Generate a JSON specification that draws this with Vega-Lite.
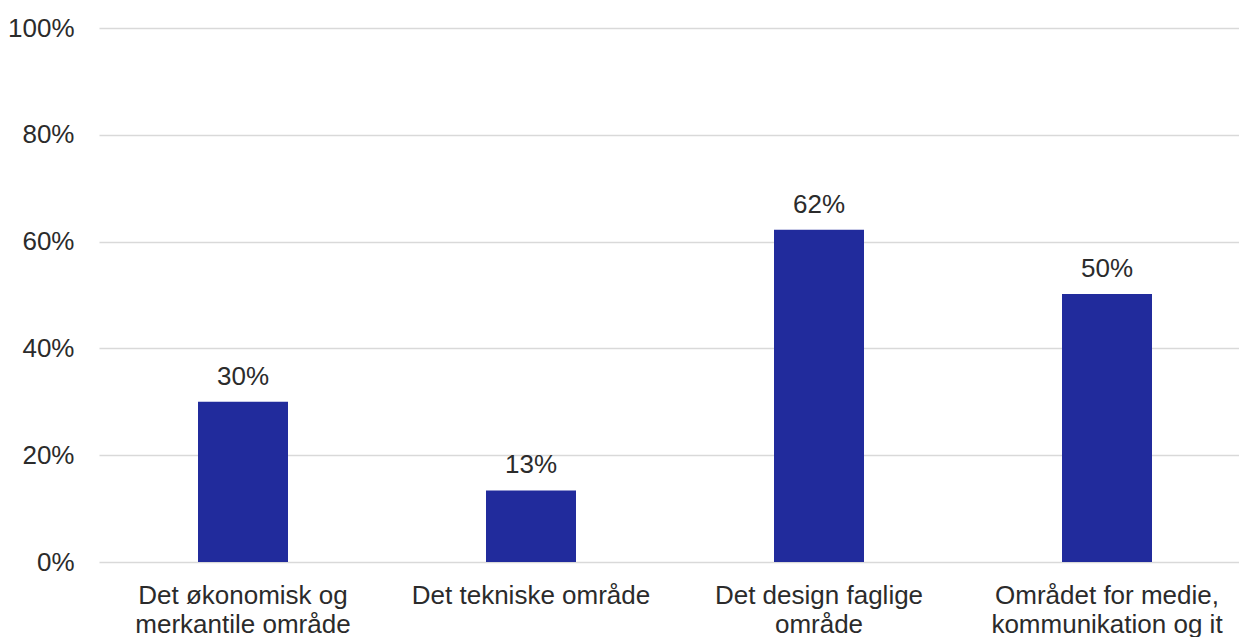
{
  "$schema": "https://vega.github.io/schema/vega-lite/v6.json",
  "autosize": "none",
  "width": 1140,
  "height": 534,
  "padding": {"left": 99, "top": 28, "right": 0, "bottom": 75},
  "background": "white",
  "config": {
    "view": {"stroke": null},
    "font": "Liberation Sans",
    "axis": {
      "labelFont": "Liberation Sans",
      "labelFontSize": 26,
      "labelColor": "#2b2b2b",
      "labelLimit": 500,
      "domain": false,
      "ticks": false,
      "title": null
    }
  },
  "data": {
    "values": [
      {"omrade": "Det økonomisk og merkantile område", "andel": 0.30},
      {"omrade": "Det tekniske område", "andel": 0.134},
      {"omrade": "Det design faglige område", "andel": 0.622},
      {"omrade": "Området for medie, kommunikation og it", "andel": 0.502}
    ]
  },
  "encoding": {
    "x": {
      "field": "omrade",
      "type": "nominal",
      "sort": null,
      "scale": {"paddingInner": 0.6875, "paddingOuter": 0.34375, "range": [0, 1152]},
      "axis": {
        "labelAngle": 0,
        "labelPadding": 20,
        "labelLineHeight": 29,
        "labelLimit": 500,
        "grid": false,
        "labelBound": false,
        "labelOverlap": false,
        "labelExpr": "datum.value == 'Det økonomisk og merkantile område' ? ['Det økonomisk og', 'merkantile område'] : datum.value == 'Det design faglige område' ? ['Det design faglige', 'område'] : datum.value == 'Området for medie, kommunikation og it' ? ['Området for medie,', 'kommunikation og it'] : datum.value"
      }
    },
    "y": {
      "field": "andel",
      "type": "quantitative",
      "scale": {"domain": [0, 1], "nice": false},
      "axis": {
        "values": [0, 0.2, 0.4, 0.6, 0.8, 1],
        "format": ".0%",
        "labelPadding": 25,
        "grid": true,
        "gridColor": "#d9d9d9",
        "gridWidth": 1.5
      }
    }
  },
  "layer": [
    {"mark": {"type": "bar", "color": "#212b9c"}},
    {
      "mark": {"type": "text", "dy": -17, "baseline": "alphabetic", "fontSize": 26, "color": "#2b2b2b", "font": "Liberation Sans"},
      "encoding": {"text": {"field": "andel", "type": "quantitative", "format": ".0%"}}
    }
  ]
}
